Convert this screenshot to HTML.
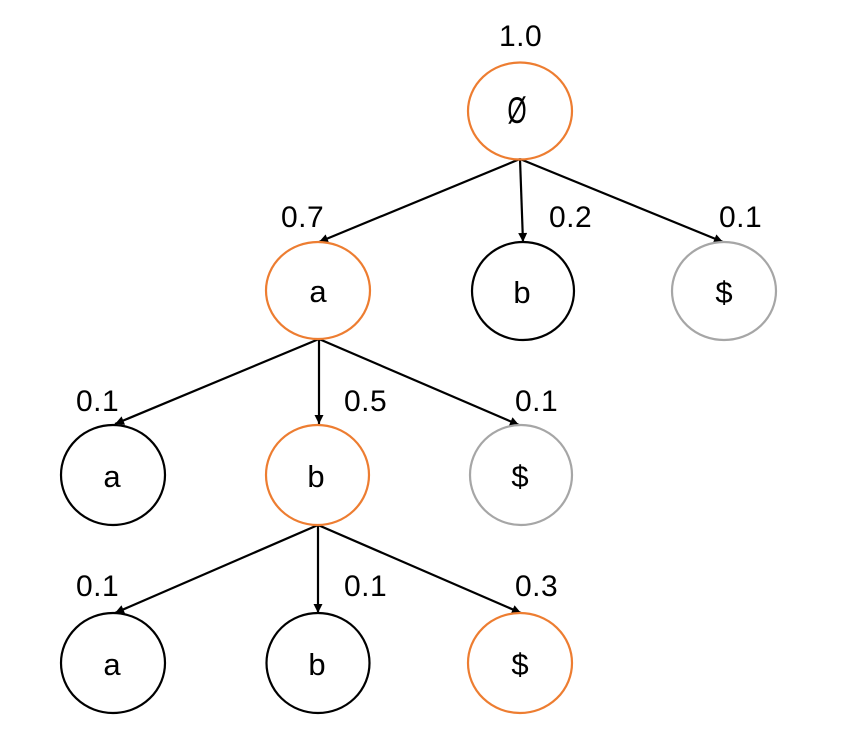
<!DOCTYPE html>
<html>
<head>
<meta charset="utf-8">
<style>
  html, body { margin: 0; padding: 0; background: #fff; }
  body { width: 844px; height: 745px; overflow: hidden; }
  svg { display: block; }
  .lbl { font-family: "Liberation Sans", sans-serif; font-size: 30px; fill: #000; letter-spacing: 0.5px; }
  .nd { font-family: "Liberation Sans", sans-serif; font-size: 31px; fill: #000; text-anchor: middle; }
</style>
</head>
<body>
<svg width="844" height="745" viewBox="0 0 844 745" xmlns="http://www.w3.org/2000/svg">
  <defs>
    <marker id="ah" viewBox="0 0 10 10" refX="10" refY="5" markerWidth="10" markerHeight="9" markerUnits="userSpaceOnUse" orient="auto">
      <path d="M0,0 L10,5 L0,10 z" fill="#000"/>
    </marker>
  </defs>

  <!-- edges -->
  <g stroke="#000" stroke-width="2.2" fill="none" marker-end="url(#ah)">
    <line x1="520" y1="159" x2="319" y2="242"/>
    <line x1="520" y1="159" x2="523" y2="242"/>
    <line x1="520" y1="159" x2="723" y2="242"/>

    <line x1="319" y1="339" x2="115" y2="424"/>
    <line x1="319" y1="339" x2="319" y2="424"/>
    <line x1="319" y1="339" x2="519" y2="425"/>

    <line x1="318" y1="525" x2="115" y2="613"/>
    <line x1="318" y1="525" x2="318" y2="613"/>
    <line x1="318" y1="525" x2="521" y2="613"/>
  </g>

  <!-- nodes -->
  <g stroke-width="2.2" fill="none">
    <ellipse cx="520" cy="111" rx="52" ry="48.5" stroke="#ED7D31"/>

    <ellipse cx="318" cy="290.5" rx="52" ry="48.5" stroke="#ED7D31"/>
    <ellipse cx="523" cy="291" rx="51" ry="49" stroke="#000"/>
    <ellipse cx="724" cy="291" rx="52" ry="49" stroke="#A6A6A6"/>

    <ellipse cx="113" cy="475" rx="52" ry="50" stroke="#000"/>
    <ellipse cx="317.5" cy="475" rx="51.5" ry="50" stroke="#ED7D31"/>
    <ellipse cx="521" cy="475" rx="51" ry="50" stroke="#A6A6A6"/>

    <ellipse cx="113" cy="663" rx="52" ry="50" stroke="#000"/>
    <ellipse cx="318" cy="663" rx="51.5" ry="50" stroke="#000"/>
    <ellipse cx="520" cy="663" rx="52" ry="50" stroke="#ED7D31"/>
  </g>

  <!-- node text -->
  <text class="nd" x="0" y="0" transform="translate(517,123) scale(0.8,1.2)">Ø</text>

  <text class="nd" x="318" y="302">a</text>
  <text class="nd" x="522" y="303">b</text>
  <text class="nd" x="724" y="303">$</text>

  <text class="nd" x="112" y="487">a</text>
  <text class="nd" x="316" y="487">b</text>
  <text class="nd" x="520" y="487">$</text>

  <text class="nd" x="112" y="675">a</text>
  <text class="nd" x="317" y="675">b</text>
  <text class="nd" x="520" y="675">$</text>

  <!-- probability labels -->
  <text class="lbl" x="499" y="46">1.0</text>

  <text class="lbl" x="281" y="227">0.7</text>
  <text class="lbl" x="549" y="227">0.2</text>
  <text class="lbl" x="719" y="227">0.1</text>

  <text class="lbl" x="76" y="411">0.1</text>
  <text class="lbl" x="344" y="411">0.5</text>
  <text class="lbl" x="515" y="411">0.1</text>

  <text class="lbl" x="76" y="596">0.1</text>
  <text class="lbl" x="344" y="596">0.1</text>
  <text class="lbl" x="515" y="596">0.3</text>
</svg>
</body>
</html>
